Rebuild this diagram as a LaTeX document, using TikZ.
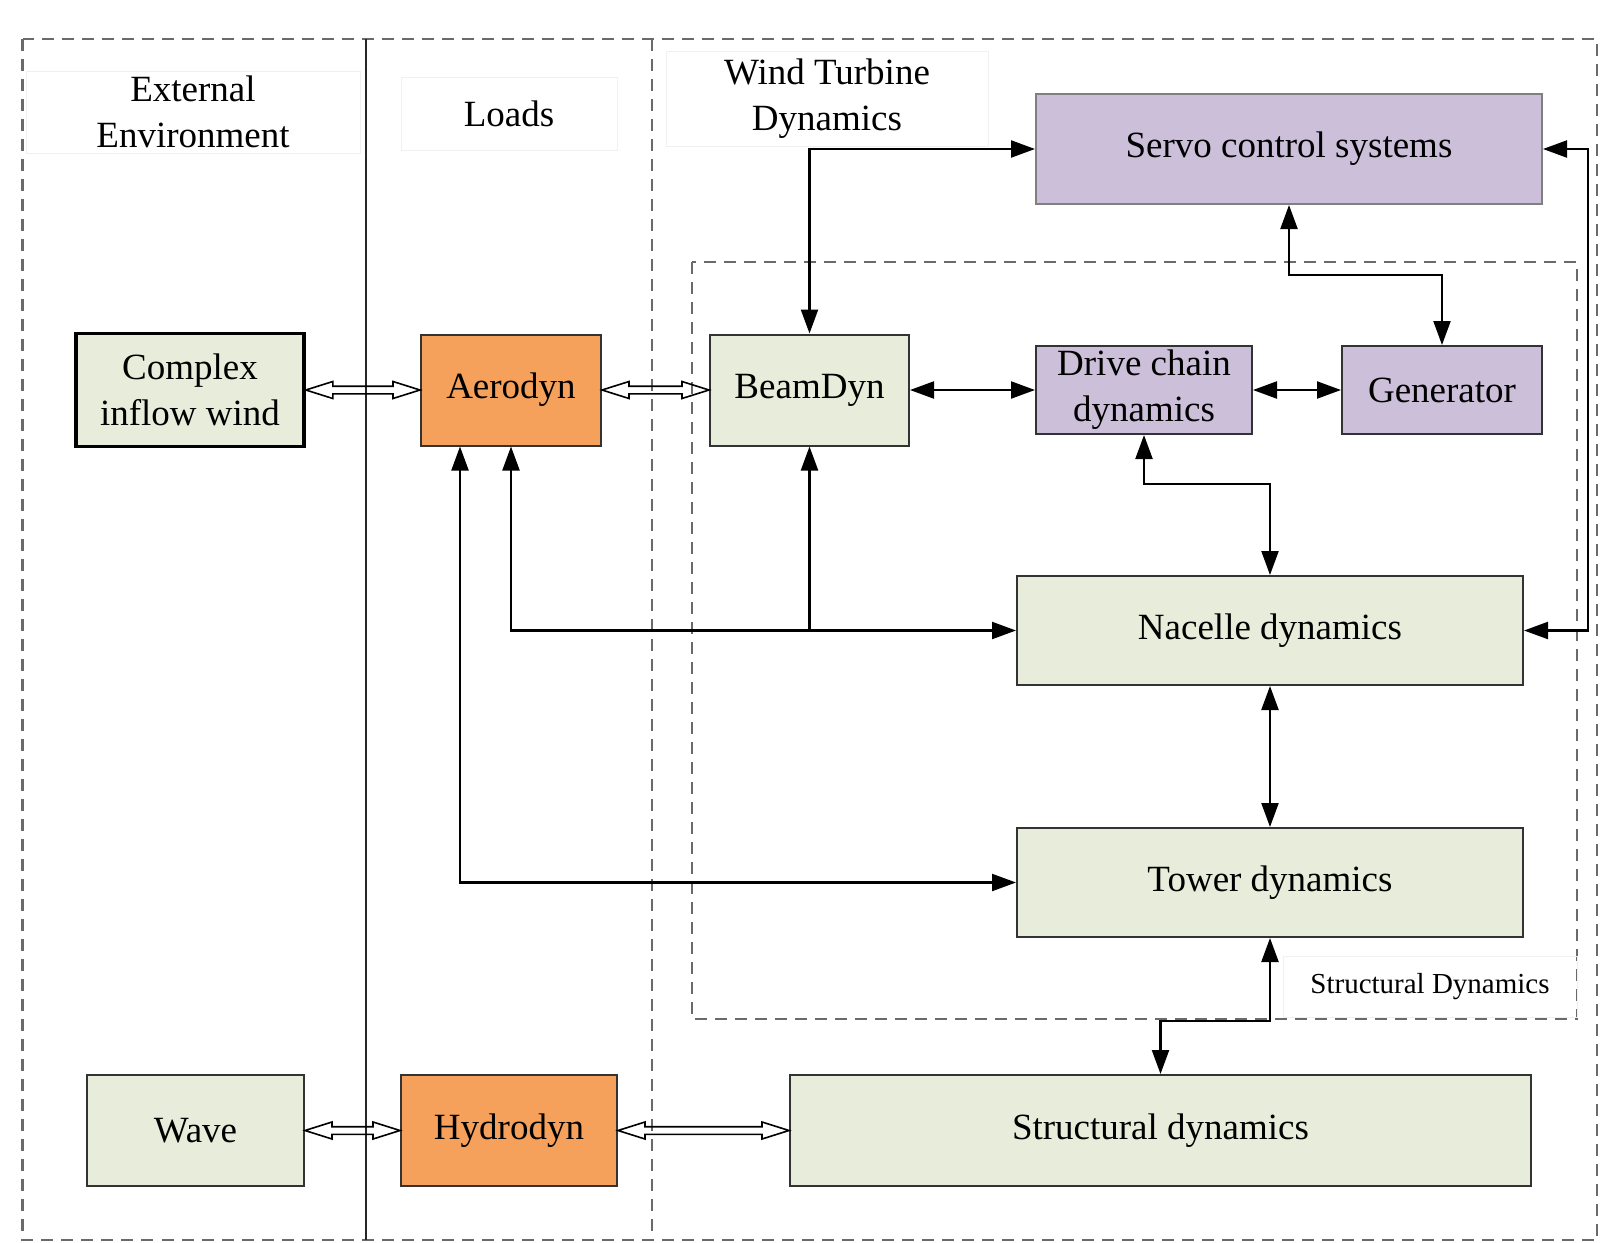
\documentclass[tikz,border=0pt]{standalone}
\usepackage{fontspec}
\setmainfont{Liberation Serif}
\usetikzlibrary{arrows.meta,calc}
\definecolor{boxgreen}{HTML}{E7EDDA}
\definecolor{boxpurple}{HTML}{CBBFD9}
\definecolor{boxorange}{HTML}{F5A05B}
\definecolor{framegray}{HTML}{6A6A6A}
\newcommand{\hollowarr}[2]{\draw[hollow] let \p1=(#1), \p2=(#2) in
  (\x1,\y1) -- (\x1+13.5pt,\y1+4.25pt) -- (\x1+13.5pt,\y1+1.9pt) -- (\x2-13.5pt,\y1+1.9pt)
  -- (\x2-13.5pt,\y1+4.25pt) -- (\x2,\y1) -- (\x2-13.5pt,\y1-4.25pt) -- (\x2-13.5pt,\y1-1.9pt)
  -- (\x1+13.5pt,\y1-1.9pt) -- (\x1+13.5pt,\y1-4.25pt) -- cycle;}
\begin{document}
\begin{tikzpicture}[x=0.5pt,y=-0.5pt,
  box/.style={draw=black!80, line width=1pt, inner sep=0pt, align=center,
    font=\fontsize{18.5}{23}\selectfont},
  gbox/.style={box, fill=boxgreen},
  pbox/.style={box, fill=boxpurple},
  obox/.style={box, fill=boxorange},
  hdr/.style={draw=gray!12, line width=0.4pt, inner sep=0pt, align=center,
    font=\fontsize{18.5}{23}\selectfont},
  frame/.style={draw=framegray, line width=1.3pt, dash pattern=on 6pt off 4pt},
  conn/.style={line width=1.1pt, {Triangle[length=12pt,width=8.5pt]}-{Triangle[length=12pt,width=8.5pt]}},
  conntip/.style={line width=1.1pt, -{Triangle[length=12pt,width=8.5pt]}},
  hollow/.style={draw=black, line width=0.8pt, line join=miter}
]
\useasboundingbox (0,0) rectangle (1603,1243);

% frames
\draw[frame] (22.5,39) rectangle (1597,1240);
\draw[frame] (652,39) -- (652,1240);
\draw[line width=0.9pt, black!85] (366,39) -- (366,1240);
\draw[frame] (692,262) rectangle (1577,1019);

% headers
\node[hdr, minimum width=167pt, minimum height=41pt] (hext) at (193,112) {External\\Environment};
\node[hdr, minimum width=108pt, minimum height=36.5pt] (hload) at (509,113.5) {Loads};
\node[hdr, minimum width=161pt, minimum height=47.5pt] (hwtd) at (827,99) {Wind Turbine\\Dynamics};
\node[hdr, minimum width=147pt, minimum height=30.5pt, font=\fontsize{14.5}{17}\selectfont] (hsd) at (1430,986.5) {Structural Dynamics};

% boxes
\node[pbox, draw=black!50, minimum width=253pt, minimum height=55pt] (servo) at (1289,149) {Servo control systems};
\node[gbox, draw=black, line width=1.8pt, minimum width=114pt, minimum height=56.5pt] (complex) at (190,390) {Complex\\inflow wind};
\node[obox, minimum width=90pt, minimum height=55.5pt] (aero) at (511,390) {Aerodyn};
\node[gbox, minimum width=99.5pt, minimum height=55.5pt] (beam) at (809.5,390) {BeamDyn};
\node[pbox, minimum width=108pt, minimum height=44pt] (drive) at (1144,390) {Drive chain\\dynamics};
\node[pbox, minimum width=100pt, minimum height=44pt] (gen) at (1442,390) {Generator};
\node[gbox, minimum width=253pt, minimum height=54.5pt] (nacelle) at (1270,630.5) {Nacelle dynamics};
\node[gbox, minimum width=253pt, minimum height=54.5pt] (tower) at (1270,882.5) {Tower dynamics};
\node[gbox, minimum width=108.5pt, minimum height=55.5pt] (wave) at (195.5,1130.5) {Wave};
\node[obox, minimum width=108pt, minimum height=55.5pt] (hydro) at (509,1130.5) {Hydrodyn};
\node[gbox, minimum width=370.5pt, minimum height=55.5pt] (struct) at (1160.5,1130.5) {Structural dynamics};

% hollow double arrows
\hollowarr{complex.east}{aero.west}
\hollowarr{aero.east}{beam.west}
\hollowarr{wave.east}{hydro.west}
\hollowarr{hydro.east}{struct.west}

% connectors
\draw[conn] (beam.north) |- (servo.west);
\draw[conn] (servo.east) -- ($(servo.east)+(45,0)$) |- (nacelle.east);
\draw[conn] (servo.south) |- ([yshift=35pt]gen.north) -- (gen.north);
\draw[conn] (beam.east) -- (drive.west);
\draw[conn] (drive.east) -- (gen.west);
\draw[conn] (drive.south) |- ([yshift=45.5pt]nacelle.north) -- (nacelle.north);
\draw[conn] (nacelle.south) -- (tower.north);
\draw[conn] (tower.south) |- ([yshift=26.5pt]struct.north) -- (struct.north);
\draw[conn] (aero.south) |- (nacelle.west);
\draw[conntip] (beam.south |- nacelle.west) -- (beam.south);
\draw[conn] ([xshift=-25.5pt]aero.south) |- (tower.west);
\end{tikzpicture}
\end{document}
